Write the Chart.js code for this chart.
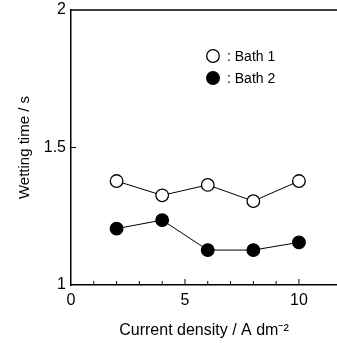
<!DOCTYPE html>
<html>
<head>
<meta charset="utf-8">
<script src="https://cdn.jsdelivr.net/npm/chart.js@4/dist/chart.umd.min.js"></script>
<style>
  html, body { margin: 0; padding: 0; background: #fff; }
  #wrap { width: 337px; height: 343px; }
</style>
</head>
<body>
<div id="wrap"><canvas id="c"></canvas></div>
<script>
// current density (A dm-2)
const density = [2, 4, 6, 8, 10];
// wetting time (s)
const bath1 = [1.378, 1.326, 1.364, 1.305, 1.378];
const bath2 = [1.205, 1.236, 1.127, 1.127, 1.155];
const seriesNames = [": Bath 1", ": Bath 2"];
const xLabels = [0, 5, 10];
const yLabels = [1, 1.5, 2];

const FONT = "'Liberation Sans', Arial, sans-serif";

// inward ticks, top frame line and the in-plot key
const frame = {
  id: "frame",
  afterDraw(chart) {
    const { ctx, chartArea: a, scales } = chart;
    ctx.save();
    ctx.strokeStyle = "#000";
    ctx.lineWidth = 1.5;
    ctx.beginPath();
    ctx.moveTo(a.left, a.top);
    ctx.lineTo(a.right, a.top);
    ctx.stroke();

    ctx.lineWidth = 1;
    ctx.beginPath();
    for (const t of scales.x.ticks) {
      if (t.value === 0 || !Number.isInteger(t.value)) continue;
      const px = scales.x.getPixelForValue(t.value);
      const len = t.value % 5 === 0 ? 6 : 4;
      ctx.moveTo(px, a.bottom);
      ctx.lineTo(px, a.bottom - len);
    }
    for (const t of scales.y.ticks) {
      if (t.value === 1 || t.value === 2) continue;
      const py = scales.y.getPixelForValue(t.value);
      ctx.moveTo(a.left, py);
      ctx.lineTo(a.left + 5, py);
    }
    ctx.stroke();

    // key
    const keyX = 213, keyY = [56, 78];
    chart.data.datasets.forEach((ds, i) => {
      ctx.beginPath();
      ctx.arc(keyX, keyY[i], 6.3, 0, Math.PI * 2);
      ctx.fillStyle = ds.pointBackgroundColor;
      ctx.fill();
      ctx.lineWidth = 1.3;
      ctx.strokeStyle = "#000";
      ctx.stroke();
      ctx.fillStyle = "#000";
      ctx.font = "14px " + FONT;
      ctx.textBaseline = "middle";
      ctx.fillText(ds.label, keyX + 14, keyY[i] + 1);
    });
    ctx.restore();
  }
};

new Chart(document.getElementById("c"), {
  type: "line",
  data: {
    datasets: [
      { label: seriesNames[0], data: density.map((x, i) => ({ x, y: bath1[i] })),
        borderColor: "#000", borderWidth: 1, pointRadius: 6.3, pointBorderWidth: 1.3,
        pointBackgroundColor: "#fff", pointBorderColor: "#000" },
      { label: seriesNames[1], data: density.map((x, i) => ({ x, y: bath2[i] })),
        borderColor: "#000", borderWidth: 1, pointRadius: 6.3, pointBorderWidth: 1.3,
        pointBackgroundColor: "#000", pointBorderColor: "#000" }
    ]
  },
  options: {
    responsive: true,
    maintainAspectRatio: false,
    animation: false,
    layout: { autoPadding: false, padding: { top: 10, right: 0, bottom: 0, left: 0 } },
    plugins: { legend: { display: false }, tooltip: { enabled: false } },
    scales: {
      x: {
        type: "linear", min: 0, max: 11.67,
        grid: { display: false, drawTicks: false },
        border: { display: true, color: "#000", width: 1.5 },
        ticks: {
          stepSize: 1, autoSkip: false, maxRotation: 0, padding: 6,
          color: "#000", font: { family: FONT, size: 16 },
          callback: v => xLabels.includes(v) ? String(v) : ""
        },
        title: {
          display: true, text: "Current density / A dm\u207B\u00B2",
          color: "#000", font: { family: FONT, size: 16 }, padding: { top: 3, bottom: 3 }
        },
        afterFit: s => { s.height = 58; s.paddingLeft = 0; s.paddingRight = 0; }
      },
      y: {
        type: "linear", min: 1, max: 2,
        grid: { display: false, drawTicks: false },
        border: { display: true, color: "#000", width: 1.5 },
        ticks: {
          stepSize: 0.5, padding: 5, color: "#000", font: { family: FONT, size: 16 },
          callback: v => yLabels.includes(v) ? String(v) : ""
        },
        title: {
          display: true, text: "Wetting time / s",
          color: "#000", font: { family: FONT, size: 15 }, padding: { top: 16, bottom: 0 }
        },
        afterFit: s => { s.width = 71; s.paddingTop = 0; s.paddingBottom = 0; }
      }
    }
  },
  plugins: [frame]
});
</script>
</body>
</html>
